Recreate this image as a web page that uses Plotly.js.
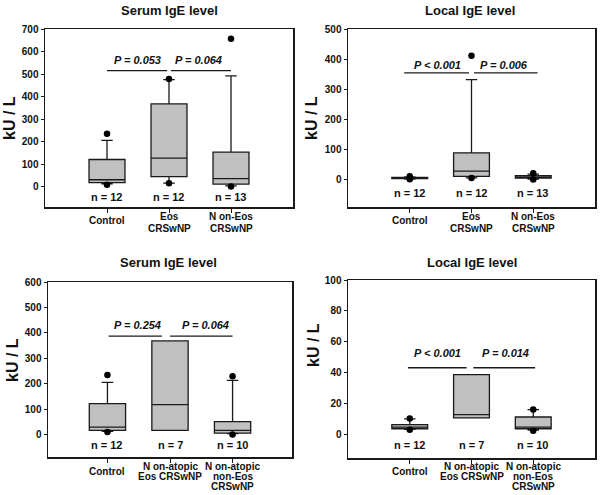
<!DOCTYPE html>
<html>
<head>
<meta charset="utf-8">
<script src="https://cdn.plot.ly/plotly-3.0.1.min.js"></script>
<style>html,body{margin:0;padding:0;background:#fff;} #chart{width:600px;height:495px;}</style>
</head>
<body>
<div id="chart"></div>
<script>
// ---------- data ----------
const panelTitles = ["Serum IgE level", "Local IgE level", "Serum IgE level", "Local IgE level"];
const catsTop = [["Control"], ["Eos", "CRSwNP"], ["N on-Eos", "CRSwNP"]];
const catsBottom = [["Control"], ["N on-atopic", "Eos CRSwNP"], ["N on-atopic", "non-Eos", "CRSwNP"]];
const yTickVals1 = [0, 100, 200, 300, 400, 500, 600, 700];
const yTickVals2 = [0, 100, 200, 300, 400, 500];
const yTickVals3 = [0, 100, 200, 300, 400, 500, 600];
const yTickVals4 = [0, 20, 40, 60, 80, 100];

// box statistics per panel: [Control, group2, group3]
const serumQ1 = [17, 44, 11];
const serumMed = [30, 126, 35];
const serumQ3 = [120, 367, 153];
const serumLo = [12, 15, 3];
const serumHi = [205, 475, 492];
const serumOutX = [0, 0, 1, 1, 2, 2];
const serumOutY = [234, 8, 478, 15, 657, 0];
const serumN = ["n = 12", "n = 12", "n = 13"];

const localQ1 = [3, 11, 5];
const localMed = [5, 28, 8];
const localQ3 = [7, 89, 13];
const localLo = [2, 6, 2];
const localHi = [9, 332, 18];
const localOutX = [0, 0, 1, 1, 2, 2];
const localOutY = [11, 1, 411, 5, 21, 0];
const localN = ["n = 12", "n = 12", "n = 13"];

const naSerumQ1 = [16, 16, 5];
const naSerumMed = [29, 117, 16];
const naSerumQ3 = [121, 368, 50];
const naSerumLo = [12, 16, 3];
const naSerumHi = [205, 368, 213];
const naSerumOutX = [0, 0, 2, 2];
const naSerumOutY = [234, 9, 229, 0];
const naSerumN = ["n = 12", "n = 7", "n = 10"];

const naLocalQ1 = [3.9, 10.9, 3.9];
const naLocalMed = [5, 13, 5];
const naLocalQ3 = [6.5, 38.9, 11.5];
const naLocalLo = [3.5, 10.9, 3];
const naLocalHi = [10.3, 38.9, 16.3];
const naLocalOutX = [0, 0, 2, 2];
const naLocalOutY = [10.6, 3.2, 16.3, 2.6];
const naLocalN = ["n = 12", "n = 7", "n = 10"];

// p-value brackets: [x0, x1, y]
const pText1 = ["P = 0.053", "P = 0.064"];
const pLines1 = [[0, 0.97, 515], [1.03, 2.0, 515]];
const pLabelPos1 = [[0.49, 563], [1.48, 563]];
const pText2 = ["P < 0.001", "P = 0.006"];
const pLines2 = [[-0.09, 0.96, 354], [1.04, 2.07, 354]];
const pLabelPos2 = [[0.45, 381], [1.53, 381]];
const pText3 = ["P = 0.254", "P = 0.064"];
const pLines3 = [[0.02, 0.87, 387], [1.0, 2.0, 387]];
const pLabelPos3 = [[0.48, 429], [1.56, 429]];
const pText4 = ["P < 0.001", "P = 0.014"];
const pLines4 = [[-0.03, 0.92, 43.3], [1.03, 2.03, 43.3]];
const pLabelPos4 = [[0.45, 52.8], [1.55, 52.8]];

const nLabelY = [-47, -43, -41, -6.5];
const yRanges = [[-91, 700], [-91, 500], [-89, 600], [-15, 100]];

// ---------- layout helpers ----------
const W = 600, H = 495;
const frames = [ // pixel boxes [left, right, top, bottom]
  [45, 293, 29, 207],
  [348, 595, 29, 207],
  [48, 292, 282, 457],
  [348, 595, 280, 458]
];
const xRanges = [[-1, 3], [-1, 3], [-0.95, 2.95], [-1, 3]];
const titlePos = [[169, 10], [470, 10], [168, 262], [472, 262]];
const yTitlePos = [[10, 118], [312, 118], [12, 360], [313, 345]];
const catFirstLineY = [217, 217, 466, 466]; // pixel y of first line of multi-line category labels
const catSingleLineY = [220, 220, 471, 471];
const catLineStep = [11.5, 11.5, 10.3, 10.3];

const FONT = "Liberation Sans, Arial, sans-serif";
const BOXFILL = "#c0c0c0";
const LINE = "#1a1a1a";

const panels = [
  {q1: serumQ1, med: serumMed, q3: serumQ3, lo: serumLo, hi: serumHi, ox: serumOutX, oy: serumOutY, n: serumN, cats: catsTop, ticks: yTickVals1, pt: pText1, pl: pLines1, pp: pLabelPos1},
  {q1: localQ1, med: localMed, q3: localQ3, lo: localLo, hi: localHi, ox: localOutX, oy: localOutY, n: localN, cats: catsTop, ticks: yTickVals2, pt: pText2, pl: pLines2, pp: pLabelPos2},
  {q1: naSerumQ1, med: naSerumMed, q3: naSerumQ3, lo: naSerumLo, hi: naSerumHi, ox: naSerumOutX, oy: naSerumOutY, n: naSerumN, cats: catsBottom, ticks: yTickVals3, pt: pText3, pl: pLines3, pp: pLabelPos3},
  {q1: naLocalQ1, med: naLocalMed, q3: naLocalQ3, lo: naLocalLo, hi: naLocalHi, ox: naLocalOutX, oy: naLocalOutY, n: naLocalN, cats: catsBottom, ticks: yTickVals4, pt: pText4, pl: pLines4, pp: pLabelPos4}
];

const traces = [];
const layout = {
  width: W, height: H,
  margin: {l: 0, r: 0, t: 0, b: 0},
  paper_bgcolor: "#fff", plot_bgcolor: "#fff",
  showlegend: false,
  font: {family: FONT, color: "#111"},
  annotations: [], shapes: []
};

panels.forEach((p, i) => {
  const k = i + 1;
  const xa = k === 1 ? "x" : "x" + k;
  const ya = k === 1 ? "y" : "y" + k;
  const xName = k === 1 ? "xaxis" : "xaxis" + k;
  const yName = k === 1 ? "yaxis" : "yaxis" + k;
  const f = frames[i];
  const cx = [0, 1, 2];

  traces.push({
    type: "box", xaxis: xa, yaxis: ya,
    x: cx, q1: p.q1, median: p.med, q3: p.q3,
    lowerfence: p.lo, upperfence: p.hi,
    width: 0.58, whiskerwidth: 0.32,
    fillcolor: BOXFILL,
    line: {color: LINE, width: 1.3},
    boxpoints: false, hoverinfo: "skip"
  });
  traces.push({
    type: "scatter", mode: "markers", xaxis: xa, yaxis: ya,
    x: p.ox, y: p.oy,
    marker: {color: "#000", size: 6.5},
    hoverinfo: "skip", cliponaxis: false
  });

  layout[xName] = {
    domain: [f[0] / W, f[1] / W],
    range: xRanges[i],
    anchor: ya,
    tickvals: cx, showticklabels: false,
    ticks: "outside", ticklen: 4, tickcolor: LINE, tickwidth: 1,
    showline: true, mirror: true, linecolor: LINE, linewidth: 1.5,
    showgrid: false, zeroline: false, fixedrange: true
  };
  layout[yName] = {
    domain: [1 - f[3] / H, 1 - f[2] / H],
    range: yRanges[i],
    anchor: xa,
    tickvals: p.ticks,
    ticks: "outside", ticklen: 3, tickcolor: LINE, tickwidth: 1,
    tickfont: {family: FONT, size: 10, weight: "bold", color: "#111"},
    showline: true, mirror: true, linecolor: LINE, linewidth: 1.5,
    showgrid: false, zeroline: false, fixedrange: true
  };

  // category labels (one annotation per line, placed under each category of the x axis)
  p.cats.forEach((lines, j) => {
    lines.forEach((txt, li) => {
      const py = lines.length === 1 ? catSingleLineY[i] : catFirstLineY[i] + li * catLineStep[i];
      layout.annotations.push({
        xref: xa, yref: "paper", x: cx[j], y: 1 - py / H,
        text: txt, showarrow: false, xanchor: "center", yanchor: "middle",
        font: {family: FONT, size: 10, weight: "bold", color: "#111"}
      });
    });
  });

  // titles
  layout.annotations.push({
    xref: "paper", yref: "paper",
    x: titlePos[i][0] / W, y: 1 - titlePos[i][1] / H,
    text: panelTitles[i], showarrow: false,
    xanchor: "center", yanchor: "middle",
    font: {family: FONT, size: 13, weight: "bold", color: "#111"}
  });
  layout.annotations.push({
    xref: "paper", yref: "paper",
    x: yTitlePos[i][0] / W, y: 1 - yTitlePos[i][1] / H,
    text: "kU / L", showarrow: false, textangle: -90,
    xanchor: "center", yanchor: "middle",
    font: {family: FONT, size: 16, weight: "bold", color: "#111"}
  });
  // n labels
  p.n.forEach((t, j) => {
    layout.annotations.push({
      xref: xa, yref: ya, x: cx[j], y: nLabelY[i],
      text: t, showarrow: false, xanchor: "center", yanchor: "middle",
      font: {family: FONT, size: 11, weight: "bold", color: "#111"}
    });
  });
  // p-value brackets
  p.pl.forEach((l, j) => {
    layout.shapes.push({
      type: "line", xref: xa, yref: ya,
      x0: l[0], x1: l[1], y0: l[2], y1: l[2],
      line: {color: LINE, width: 1.3}
    });
    layout.annotations.push({
      xref: xa, yref: ya, x: p.pp[j][0], y: p.pp[j][1],
      text: "<i>" + p.pt[j] + "</i>", showarrow: false,
      xanchor: "center", yanchor: "middle",
      font: {family: FONT, size: 11, weight: "bold", color: "#111"}
    });
  });
});

Plotly.newPlot("chart", traces, layout, {staticPlot: true, displayModeBar: false});
</script>
</body>
</html>
